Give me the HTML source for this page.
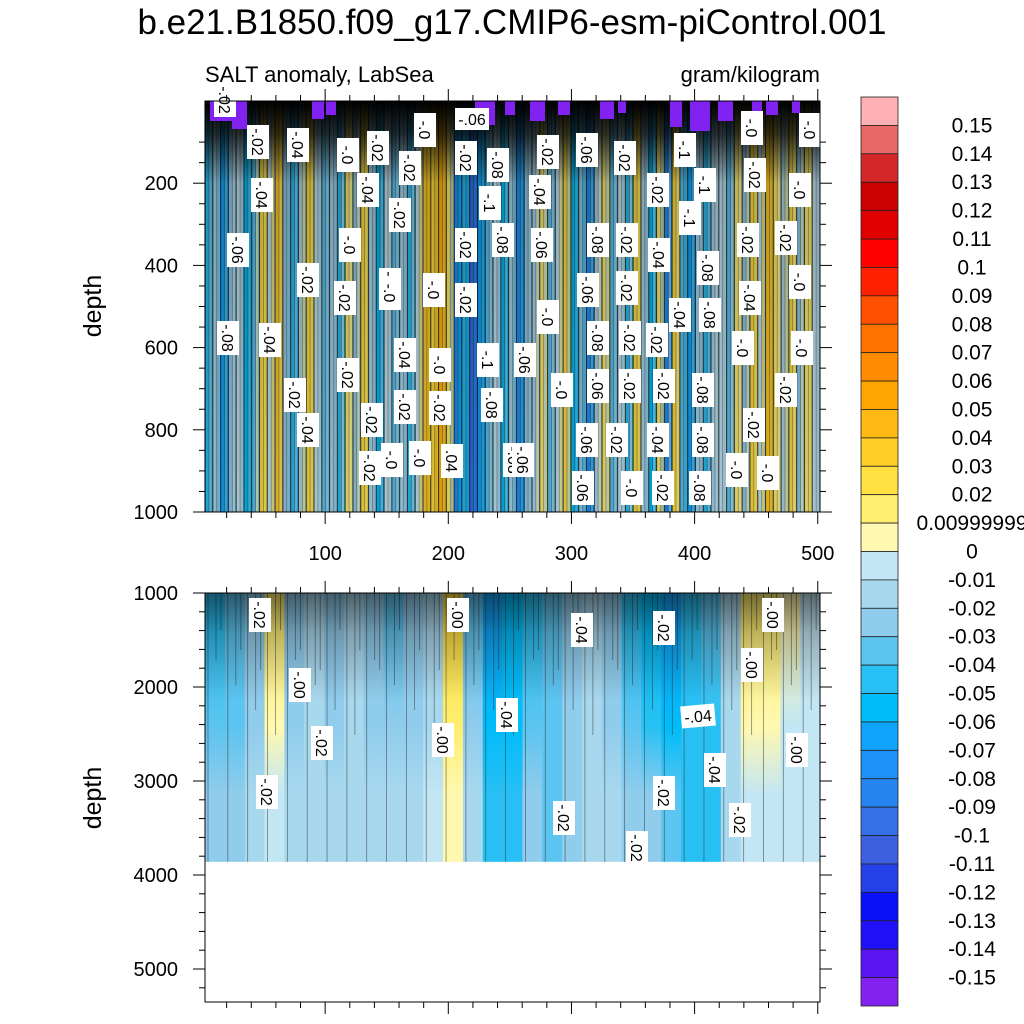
<!DOCTYPE html>
<html><head><meta charset="utf-8"><style>
html,body{margin:0;padding:0;background:#fff;}
svg{display:block;font-family:"Liberation Sans",sans-serif;}
</style></head><body>
<svg id="chart" width="1024" height="1024" viewBox="0 0 1024 1024" xmlns="http://www.w3.org/2000/svg">
<text x="512" y="34" text-anchor="middle" font-size="35">b.e21.B1850.f09_g17.CMIP6-esm-piControl.001</text>
<text x="205" y="82" font-size="22">SALT anomaly, LabSea</text>
<text x="820" y="82" text-anchor="end" font-size="22">gram/kilogram</text>
<text transform="translate(101,306) rotate(-90)" text-anchor="middle" font-size="25">depth</text>
<text transform="translate(101,798) rotate(-90)" text-anchor="middle" font-size="25">depth</text>
<defs>
<linearGradient id="topDark" x1="0" y1="0" x2="0" y2="1">
<stop offset="0" stop-color="#000" stop-opacity="1"/>
<stop offset="0.08" stop-color="#000" stop-opacity="0.8"/>
<stop offset="0.2" stop-color="#000" stop-opacity="0.25"/>
<stop offset="1" stop-color="#000" stop-opacity="0.15"/>
</linearGradient>
<linearGradient id="botDark" x1="0" y1="0" x2="0" y2="1">
<stop offset="0" stop-color="#000" stop-opacity="0.55"/>
<stop offset="0.15" stop-color="#000" stop-opacity="0.25"/>
<stop offset="0.4" stop-color="#000" stop-opacity="0"/>
</linearGradient>
</defs>
<g id="top-panel"></g>
<g id="bottom-panel"></g>
<g id="colorbar"></g>
</svg>
<script>
const levelColors = ["#8222F0","#5A14F4","#2010F8","#0A10F8","#2440E8","#3C60E0","#3470E8","#2484F0","#1E90F8","#10A4FC","#00BCF8","#28C0F4","#5CC4F0","#90CCEC","#A8D8EE","#C2E6F4","#FFF8B0","#FFEE70","#FFE040","#FFCC28","#FFB814","#FFA400","#FF8C00","#FF7400","#FF5000","#FF2000","#FF0000","#E00000","#CC0000","#D42828","#E86868","#FFB0B4"];
const cbLabels = ["0.15","0.14","0.13","0.12","0.11","0.1","0.09","0.08","0.07","0.06","0.05","0.04","0.03","0.02","0.00999999","0","-0.01","-0.02","-0.03","-0.04","-0.05","-0.06","-0.07","-0.08","-0.09","-0.1","-0.11","-0.12","-0.13","-0.14","-0.15"];
const topValues = [-0.05,-0.02,-0.07,-0.03,-0.01,-0.06,-0.04, 0.02,-0.01,0.03, -0.03,-0.05,-0.02, 0.02,-0.01, -0.04,-0.02,-0.05, 0.01,-0.03,0.02, -0.02,-0.06,-0.01,-0.04,-0.02,-0.05,-0.01, 0.03,0.02,0.04,0.01, -0.08,-0.05,-0.1,-0.07,-0.04, -0.01,-0.06,-0.02,-0.08,-0.03, -0.02,0.01,-0.04,-0.01,0.02, -0.06,-0.03,-0.08,-0.02,0.01, -0.04,-0.01,-0.05,0.02,-0.02, -0.06,0.01,-0.08,0.02,-0.04,-0.07,-0.02, -0.05,-0.02,-0.01,-0.04,0.01,-0.03, 0.02,-0.01,0.03,0.01,-0.02,0.02,-0.03,0.01,-0.01];
const botUpper = [-0.05,-0.04,-0.03,0.01,-0.03,-0.02,-0.03,-0.02,-0.03,-0.04,-0.03,-0.02,0.02,-0.04,-0.07,-0.06,-0.05,-0.04,-0.03,-0.02,-0.03,-0.05,-0.06,-0.07,-0.05,-0.04,-0.02,0.01,0.01,0.005,-0.01];
const botLower = [-0.03,-0.03,-0.02,-0.01,-0.02,-0.02,-0.02,-0.02,-0.02,-0.02,-0.02,-0.01,0.005,-0.02,-0.05,-0.05,-0.03,-0.04,-0.03,-0.02,-0.02,-0.03,-0.03,-0.04,-0.05,-0.05,-0.02,-0.01,-0.01,-0.01,-0.01];
const xTicks = [100,200,300,400,500];
const topDepthTicks = [200,400,600,800,1000];
const botDepthTicks = [1000,2000,3000,4000,5000];
const topLabels = [["-.02",225,100],["-.04",262,195],["-.06",238,250],["-.08",228,338],["-.04",270,340],["-.02",258,142],["-.04",298,145],["-.02",308,280],["-.02",295,395],["-.04",308,430],["-.0",348,155],["-.02",378,148],["-.04",368,190],["-.02",400,215],["-.0",350,245],["-.02",345,298],["-.04",390,285],["-.02",348,375],["-.02",372,420],["-.02",370,468],["-.0",390,293],["-.04",405,355],["-.02",405,407],["-.0",420,458],["-.0",392,460],["-.02",410,168],["-.0",425,130],["-.06",472,119],["-.02",466,158],["-.08",498,165],["-.1",490,203],["-.02",466,245],["-.02",466,300],["-.08",503,240],["-.04",540,192],["-.06",542,245],["-.02",548,152],["-.0",548,317],["-.1",488,360],["-.08",492,405],["-.06",525,360],["-.08",514,460],["-.06",523,460],["-.0",440,365],["-.02",440,408],[".04",452,461],["-.0",434,290],["-.06",587,150],["-.02",625,158],["-.08",598,240],["-.02",627,240],["-.06",588,290],["-.02",627,288],["-.08",598,338],["-.02",630,338],["-.06",598,386],["-.02",630,386],["-.0",562,390],["-.06",587,440],["-.02",617,440],["-.06",583,488],["-.0",632,488],["-.02",658,190],["-.02",657,340],["-.04",659,255],["-.02",664,386],["-.04",658,440],["-.02",663,488],["-.1",685,150],["-.1",705,185],["-.1",690,218],["-.08",708,268],["-.04",680,315],["-.08",710,315],["-.08",703,390],["-.08",703,440],["-.08",700,488],["-.0",752,128],["-.0",810,130],["-.02",755,175],["-.0",800,190],["-.02",748,240],["-.02",786,238],["-.0",800,282],["-.04",750,298],["-.0",743,348],["-.0",802,348],["-.02",786,390],["-.02",754,425],["-.0",737,470],["-.0",768,473]];
const botLabels = [["-.02",260,615],["-.00",300,685],["-.02",322,743],["-.02",267,792],["-.00",458,615],["-.00",443,740],["-.04",582,630],["-.04",507,715],["-.02",564,818],["-.02",664,628],["-.04",698,716],["-.04",715,770],["-.02",664,793],["-.02",637,848],["-.00",773,615],["-.00",752,665],["-.00",797,750],["-.02",740,820]];

const NS = "http://www.w3.org/2000/svg";
function mk(tag, attrs, parent){const e=document.createElementNS(NS,tag);for(const k in attrs)e.setAttribute(k,attrs[k]);parent.appendChild(e);return e;}
function colorOf(v){let i=Math.floor((v+0.16)/0.01+1e-9);i=Math.max(0,Math.min(31,i));return levelColors[i];}
const PX0=205,PX1=820;
function xScale(v){return 202+v*1.2315;}
function yTop(d){return 101+d*0.411;}
function yBot(d){return 593+(d-1000)*0.094;}

// top panel
const tp=document.getElementById('top-panel');
const cw=(PX1-PX0)/topValues.length;
topValues.forEach((v,i)=>{
  const x0=PX0+i*cw;
  const r=mk('rect',{x:x0,y:101,width:cw+0.6,height:411,fill:colorOf(v)},tp);
  
  
  const nb=topValues[(i+1)%topValues.length];
  mk('rect',{x:x0+cw*0.55,y:101,width:cw*0.3,height:411,fill:colorOf((v+nb)/2+0.01),'fill-opacity':0.7},tp);
  mk('line',{x1:x0,y1:101,x2:x0,y2:512,stroke:'#111','stroke-width':1.1,'stroke-opacity':0.75},tp);
  mk('line',{x1:x0+cw*0.5,y1:101,x2:x0+cw*0.5,y2:512,stroke:'#222','stroke-width':0.6,'stroke-opacity':0.5},tp);
});
mk('rect',{x:PX0,y:101,width:615,height:411,fill:'url(#topDark)'},tp);
[[210,30,20],[232,15,28],[312,12,18],[326,10,14],[475,20,24],[505,10,14],[530,15,20],[558,12,14],[600,14,18],[618,8,12],[670,12,26],[690,20,30],[718,15,20],[752,10,18],[766,12,14],[792,8,12]].forEach(p=>{
  mk('rect',{x:p[0],y:101,width:p[1],height:p[2],fill:'#8222F0'},tp);
});
topLabels.forEach(t=>{
  const g=mk('g',{transform:`translate(${t[1]},${t[2]}) rotate(${t[0]==='-.06'&&t[2]<125?0:90})`},tp);
  
  
  mk('rect',{x:-17,y:-11,width:34,height:22,fill:'#fff'},g);
  const tx=mk('text',{x:0,y:6,'text-anchor':'middle','font-size':16},g);tx.textContent=t[0];
});
mk('rect',{x:PX0,y:101,width:615,height:411,fill:'none',stroke:'#000','stroke-width':1},tp);

// bottom panel
const bp=document.getElementById('bottom-panel');
const defs=document.querySelector('defs');
const bw=(PX1-PX0)/botUpper.length;
const yEnd=yBot(3860);
botUpper.forEach((v,i)=>{
  const gid='bg'+i;
  const lg=mk('linearGradient',{id:gid,x1:0,y1:0,x2:0,y2:1},defs);
  mk('stop',{offset:0.1,'stop-color':colorOf(v)},lg);
  mk('stop',{offset:0.5,'stop-color':colorOf((v+botLower[i])/2)},lg);
  mk('stop',{offset:0.75,'stop-color':colorOf(botLower[i])},lg);
  const r=mk('rect',{x:PX0+i*bw,y:593,width:bw+0.6,height:yEnd-593,fill:`url(#${gid})`},bp);
  
  
  mk('line',{x1:PX0+i*bw+3,y1:593,x2:PX0+i*bw+3,y2:yEnd,stroke:'#333','stroke-width':0.8,'stroke-opacity':0.6},bp);
  mk('line',{x1:PX0+i*bw+11,y1:593,x2:PX0+i*bw+11,y2:660+(i%4)*25,stroke:'#333','stroke-width':0.8,'stroke-opacity':0.6},bp);
  mk('line',{x1:PX0+i*bw+16,y1:593,x2:PX0+i*bw+16,y2:630+(i%3)*20,stroke:'#333','stroke-width':0.8,'stroke-opacity':0.6},bp);
});
mk('rect',{x:PX0,y:593,width:615,height:yEnd-593,fill:'url(#botDark)'},bp);
botLabels.forEach(t=>{
  const g=mk('g',{transform:`translate(${t[1]},${t[2]}) rotate(${t[2]===716&&t[1]===698?-5:90})`},bp);
  
  
  mk('rect',{x:-17,y:-11,width:34,height:22,fill:'#fff'},g);
  const tx=mk('text',{x:0,y:6,'text-anchor':'middle','font-size':16},g);tx.textContent=t[0];
});
mk('rect',{x:PX0,y:593,width:615,height:409,fill:'none',stroke:'#000','stroke-width':1},bp);

// axes ticks
function tick(p,x1,y1,x2,y2){mk('line',{x1,y1,x2,y2,stroke:'#000','stroke-width':1},p);}
[[101,512],[593,1002]].forEach(([t,b])=>{
  for(let v=20;v<=500;v+=20){const x=xScale(v);const L=(v%100===0)?12:6;tick(tp,x,t,x,t-L);tick(tp,x,b,x,b+L);}
});
for(let d=100;d<=1000;d+=50){const y=yTop(d);const L=(d%200===0)?12:6;tick(tp,PX0,y,PX0-L,y);tick(tp,PX1,y,PX1+L,y);}
for(let d=1000;d<=5300;d+=200){const y=yBot(d);const L=(d%1000===0)?12:6;tick(bp,PX0,y,PX0-L,y);tick(bp,PX1,y,PX1+L,y);}
xTicks.forEach(v=>{const t=mk('text',{x:xScale(v),y:560,'text-anchor':'middle','font-size':20},tp);t.textContent=v;});
topDepthTicks.forEach(d=>{const t=mk('text',{x:178,y:yTop(d)+7,'text-anchor':'end','font-size':20},tp);t.textContent=d;});
botDepthTicks.forEach(d=>{const t=mk('text',{x:178,y:yBot(d)+7,'text-anchor':'end','font-size':20},bp);t.textContent=d;});

// colorbar
const cb=document.getElementById('colorbar');
const cbTop=97,cbH=909/32;
for(let i=0;i<32;i++){
  const r=mk('rect',{x:861,y:cbTop+i*cbH,width:37,height:cbH,fill:levelColors[31-i],stroke:'#222','stroke-width':0.8},cb);
  
  
}
cbLabels.forEach((s,i)=>{
  const t=mk('text',{x:972,y:cbTop+(i+1)*cbH+7,'text-anchor':'middle','font-size':21},cb);
  t.textContent=s;
  
  
});
</script>
</body></html>
